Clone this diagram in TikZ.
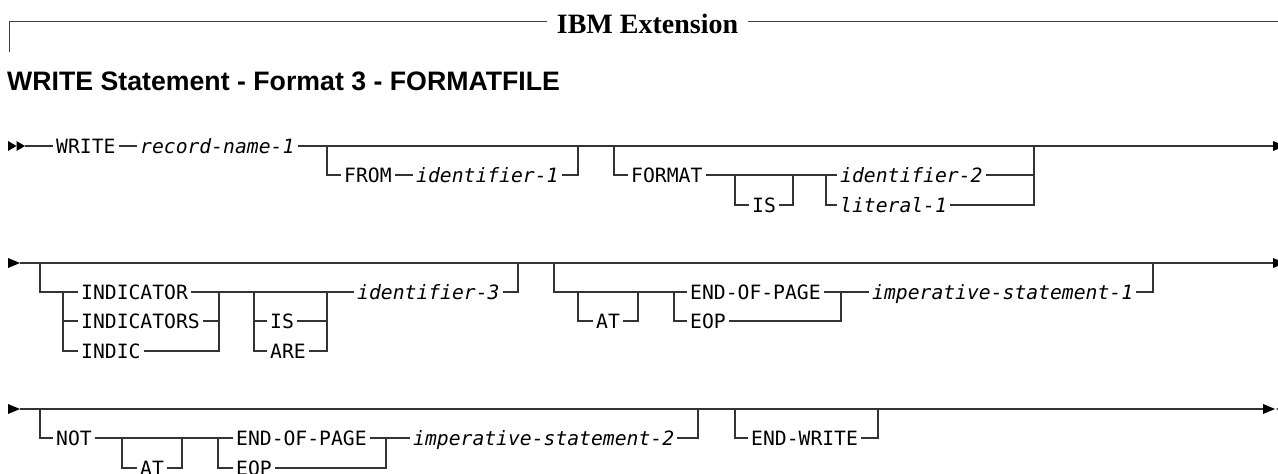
\documentclass[tikz,border=0pt]{standalone}
\usepackage{fontspec}
\newfontfamily\dia{DejaVu Sans Mono}
\newfontfamily\hdserif{Liberation Serif}
\newfontfamily\hdsans{Liberation Sans}
\newcommand\diafont{\dia\fontsize{19.7pt}{22pt}\selectfont}
\tikzset{
  ln/.style={draw=black!80, line width=1.3pt},
  hln/.style={draw=black!75, line width=1pt},
  kw/.style={inner xsep=3pt, inner ysep=0pt, anchor=west, text height=14.4pt, text depth=0pt, font=\diafont},
  var/.style={kw, font=\diafont\itshape},
  tipf/.style={fill=black, draw=none},
  ttl/.style={anchor=base west, inner sep=0pt, font=\hdsans\bfseries\fontsize{26.7pt}{30pt}\selectfont},
  hdr/.style={anchor=base, inner xsep=10pt, inner ysep=0pt, font=\hdserif\bfseries\fontsize{28pt}{30pt}\selectfont},
}
\begin{document}
\begin{tikzpicture}[x=1pt,y=-1pt]
\useasboundingbox (0,0) rectangle (1278,474);
% ---------- header ----------
\coordinate (hL) at (9,52);
\coordinate (hA) at (9,21);
\coordinate (hD) at (1278,21);
\node[hdr] (ibm) at (647.5,33) {IBM Extension};
\draw[hln] (hL) -- (hA) -- (hA -| ibm.west);
\draw[hln] (hD -| ibm.east) -- (hD);
\node[ttl] (title) at (7,90.5) {WRITE Statement - Format 3 - FORMATFILE};
% ---------- row 1 ----------
\fill[tipf] (8,141) -- (16.5,146) -- (8,151) -- cycle;
\fill[tipf] (16.5,141) -- (25,146) -- (16.5,151) -- cycle;
\coordinate (s1) at (25,146);
\coordinate (e1) at (1273,146);
\node[kw] (write) at (53,146) {WRITE};
\node[var] (rec) at (137,146) {record-name-1};
\draw[ln] (s1) -- (write.west);
\draw[ln] (write.east) -- (rec.west);
\draw[ln] (rec.east) -- (e1);
\fill[tipf] (1273,141) -- (1285,146) -- (1273,151) -- cycle;
% FROM
\coordinate (fa) at (327,146);
\coordinate (fb) at (578,146);
\node[kw] (from) at (341,175) {FROM};
\node[var] (id1) at (413,175) {identifier-1};
\draw[ln] (fa) |- (from.west);
\draw[ln] (from.east) -- (id1.west);
\draw[ln] (id1.east) -| (fb);
% FORMAT
\coordinate (ga) at (614,146);
\coordinate (gb) at (1034,146);
\coordinate (isa) at (735,175);
\coordinate (isb) at (793,175);
\coordinate (cha) at (826,175);
\node[kw] (fmt) at (628,175) {FORMAT};
\node[kw] (is1) at (749,205) {IS};
\node[var] (id2) at (837,175) {identifier-2};
\node[var] (lit1) at (837,205) {literal-1};
\draw[ln] (ga) |- (fmt.west);
\draw[ln] (fmt.east) -- (id2.west);
\draw[ln] (isa) |- (is1.west);
\draw[ln] (is1.east) -| (isb);
\draw[ln] (cha) |- (lit1.west);
\draw[ln] (id2.east) -- (id2.east -| gb);
\draw[ln] (lit1.east) -| (gb);
% ---------- row 2 ----------
\fill[tipf] (8,258) -- (20,263) -- (8,268) -- cycle;
\coordinate (s2) at (20,263);
\coordinate (e2) at (1273,263);
\draw[ln] (s2) -- (e2);
\fill[tipf] (1273,258) -- (1285,263) -- (1273,268) -- cycle;
\coordinate (aa) at (40,263);
\coordinate (ab) at (518,263);
\coordinate (ia) at (63,292);
\coordinate (ib) at (219,292);
\node[kw] (ind1) at (78,292) {INDICATOR};
\node[kw] (ind2) at (78,321) {INDICATORS};
\node[kw] (ind3) at (78,351) {INDIC};
\coordinate (ra) at (254,292);
\coordinate (rb) at (327,292);
\node[kw] (is2) at (267,321) {IS};
\node[kw] (are) at (267,351) {ARE};
\node[var] (id3) at (354,292) {identifier-3};
\draw[ln] (aa) |- (ind1.west);
\draw[ln] (ia) |- (ind3.west);
\draw[ln] (ind2.west -| ia) -- (ind2.west);
\draw[ln] (ind2.east) -- (ind2.east -| ib);
\draw[ln] (ind3.east) -| (ib);
\draw[ln] (ind1.east) -- (id3.west);
\draw[ln] (ra) |- (are.west);
\draw[ln] (is2.west -| ra) -- (is2.west);
\draw[ln] (is2.east) -- (is2.east -| rb);
\draw[ln] (are.east) -| (rb);
\draw[ln] (id3.east) -| (ab);
% group B
\coordinate (ba) at (554,263);
\coordinate (bb) at (1153,263);
\coordinate (ata) at (578,292);
\coordinate (atb) at (638,292);
\coordinate (ca) at (674,292);
\coordinate (cb) at (841,292);
\node[kw] (at1) at (593,321) {AT};
\node[kw] (eop1) at (687,292) {END-OF-PAGE};
\node[kw] (eop1b) at (687,321) {EOP};
\node[var] (imp1) at (869,292) {imperative-statement-1};
\draw[ln] (ba) |- (eop1.west);
\draw[ln] (ata) |- (at1.west);
\draw[ln] (at1.east) -| (atb);
\draw[ln] (ca) |- (eop1b.west);
\draw[ln] (eop1b.east) -| (cb);
\draw[ln] (eop1.east) -- (imp1.west);
\draw[ln] (imp1.east) -| (bb);
% ---------- row 3 ----------
\fill[tipf] (8,404) -- (20,409) -- (8,414) -- cycle;
\coordinate (s3) at (20,409);
\coordinate (e3) at (1263,409);
\draw[ln] (s3) -- (e3);
\fill[tipf] (1263,404) -- (1275,409) -- (1263,414) -- cycle;
\fill[tipf] (1288,404) -- (1276,409) -- (1288,414) -- cycle;
\coordinate (na) at (40,409);
\coordinate (nb) at (698,409);
\coordinate (a3a) at (122,438);
\coordinate (a3b) at (182,438);
\coordinate (c3a) at (218,438);
\coordinate (c3b) at (386,438);
\node[kw] (notk) at (53,438) {NOT};
\node[kw] (at2) at (137,468) {AT};
\node[kw] (eop2) at (233,438) {END-OF-PAGE};
\node[kw] (eop2b) at (233,468) {EOP};
\node[var] (imp2) at (410,438) {imperative-statement-2};
\draw[ln] (na) |- (notk.west);
\draw[ln] (notk.east) -- (eop2.west);
\draw[ln] (a3a) |- (at2.west);
\draw[ln] (at2.east) -| (a3b);
\draw[ln] (c3a) |- (eop2b.west);
\draw[ln] (eop2b.east) -| (c3b);
\draw[ln] (eop2.east) -- (imp2.west);
\draw[ln] (imp2.east) -| (nb);
\coordinate (wa) at (735,409);
\coordinate (wb) at (878,409);
\node[kw] (endw) at (748,438) {END-WRITE};
\draw[ln] (wa) |- (endw.west);
\draw[ln] (endw.east) -| (wb);
\end{tikzpicture}
\end{document}
